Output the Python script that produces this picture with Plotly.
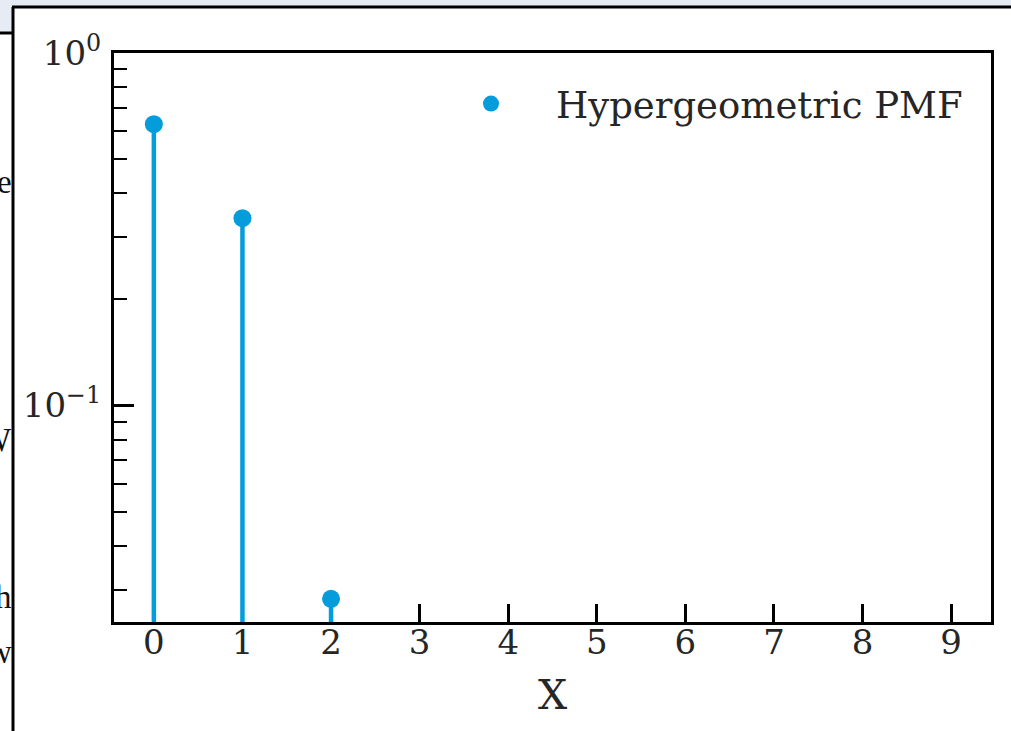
import plotly.graph_objects as go

# ---- data ----
x_values = [0, 1, 2, 3, 4, 5, 6, 7, 8, 9]
pmf_values = [0.628, 0.340, 0.0283, 0, 0, 0, 0, 0, 0, 0]
x_tick_labels = ["0", "1", "2", "3", "4", "5", "6", "7", "8", "9"]
y_major_vals = [1, 0.1]
y_major_text = ["10<sup>0</sup>", "10<sup>\u22121</sup>"]
y_minor_vals = [0.03, 0.04, 0.05, 0.06, 0.07, 0.08, 0.09,
                0.2, 0.3, 0.4, 0.5, 0.6, 0.7, 0.8, 0.9]
series_name = "Hypergeometric PMF"

COLOR = "#049cdb"
FONT = "DejaVu Serif"
TXT = "#262626"

W, H = 1011, 731
L, R, T, B = 114, 20, 53, 109
PW, PH = W - L - R, H - T - B

def px(xp):
    return (xp - L) / PW

def py(yp):
    return (H - B - yp) / PH

pos = [(x, v) for x, v in zip(x_values, pmf_values) if v > 0]
stem_x, stem_y = [], []
for x, v in pos:
    stem_x += [x, x, None]
    stem_y += [1e-4, v, None]

fig = go.Figure()
fig.add_trace(go.Scatter(
    x=stem_x, y=stem_y, mode="lines",
    line=dict(color=COLOR, width=4.5),
    showlegend=False, hoverinfo="skip"))
fig.add_trace(go.Scatter(
    x=[p[0] for p in pos], y=[p[1] for p in pos], mode="markers",
    marker=dict(color=COLOR, size=18),
    name=series_name, showlegend=True))

fig.update_layout(
    width=W, height=H,
    margin=dict(l=L, r=R, t=T, b=B, pad=0),
    paper_bgcolor="white", plot_bgcolor="white",
    font=dict(family=FONT, color=TXT, size=34),
    legend=dict(x=px(426), y=py(73), xanchor="left", yanchor="top",
                bgcolor="rgba(0,0,0,0)", font=dict(size=37, family=FONT, color=TXT),
                itemwidth=120),
    xaxis=dict(
        range=[-0.45, 9.45], tickmode="array", tickvals=x_values,
        ticktext=x_tick_labels, ticks="inside", ticklen=18, tickwidth=2.5,
        tickcolor="black", showline=True, linewidth=3, linecolor="black",
        mirror=True, showgrid=False, zeroline=False, layer="below traces",
        ticklabelstandoff=-12,
        tickfont=dict(size=34, family=FONT, color=TXT),
        title=dict(text="X", font=dict(size=41, family=FONT, color=TXT),
                   standoff=20),
    ),
    yaxis=dict(
        type="log", range=[-1.614, 0], tickmode="array",
        tickvals=y_major_vals, ticktext=y_major_text,
        ticks="inside", ticklen=20, tickwidth=2.5, tickcolor="black",
        showline=True, linewidth=3, linecolor="black", mirror=True,
        showgrid=False, zeroline=False, ticklabelstandoff=3,
        layer="below traces",
        tickfont=dict(size=34, family=FONT, color=TXT),
        minor=dict(tickmode="array", tickvals=y_minor_vals, ticks="inside",
                   ticklen=13, tickwidth=2, tickcolor="black", showgrid=False),
    ),
)

# screenshot framing around the figure
BAND = "#e7ebf3"
shapes = [
    dict(type="rect", xref="paper", yref="paper", x0=px(-5), x1=px(W + 5),
         y0=py(7), y1=py(-5), fillcolor=BAND, line=dict(width=0), layer="above"),
    dict(type="rect", xref="paper", yref="paper", x0=px(-5), x1=px(13),
         y0=py(33), y1=py(-5), fillcolor=BAND, line=dict(width=0), layer="above"),
    dict(type="line", xref="paper", yref="paper", x0=px(12), x1=px(W + 5),
         y0=py(7), y1=py(7), line=dict(color="black", width=3), layer="above"),
    dict(type="line", xref="paper", yref="paper", x0=px(13), x1=px(13),
         y0=py(7), y1=py(H + 5), line=dict(color="black", width=3), layer="above"),
    dict(type="line", xref="paper", yref="paper", x0=px(-5), x1=px(13),
         y0=py(33), y1=py(33), line=dict(color="black", width=3), layer="above"),
]
fig.update_layout(shapes=shapes)

frag = [("re", 182), ("W", 440), ("h", 597), ("w", 652)]
for t, yp in frag:
    fig.add_annotation(xref="paper", yref="paper", x=px(14), y=py(yp),
                       xanchor="right", yanchor="middle", showarrow=False,
                       text=t, font=dict(family="Liberation Serif", size=33,
                                         color="#111111"))

fig.write_html("out.html")
